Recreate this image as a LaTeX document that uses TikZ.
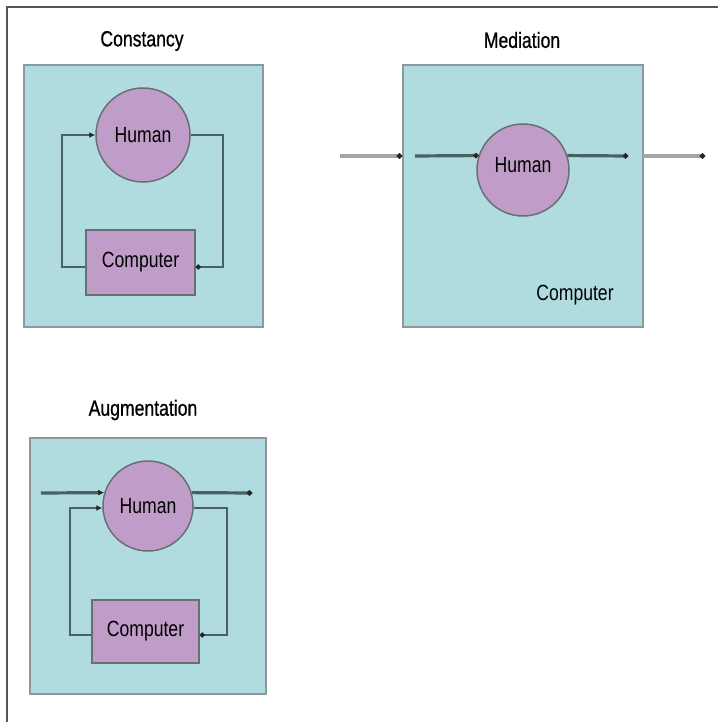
\documentclass[tikz,border=0pt]{standalone}
\usepackage{fontspec}
\setmainfont{Liberation Sans}[FakeStretch=0.8]
\newfontfamily\titlefont{Liberation Sans}[FakeStretch=0.8,FakeBold=0.8]
\usetikzlibrary{arrows.meta}
\definecolor{panelFill}{RGB}{176,220,224}
\definecolor{panelLine}{RGB}{140,152,156}
\definecolor{humanFill}{RGB}{192,157,200}
\definecolor{shapeLine}{RGB}{105,110,118}
\definecolor{linkColor}{RGB}{72,98,100}
\definecolor{outerColor}{RGB}{165,165,165}
\definecolor{frameColor}{RGB}{85,85,85}
\tikzset{
  panel/.style={draw=panelLine,fill=panelFill,line width=2.2pt,inner sep=0pt},
  human/.style={circle,draw=shapeLine,fill=humanFill,line width=1.5pt,minimum size=#1,inner sep=0pt},
  computer/.style={rectangle,draw=shapeLine,fill=humanFill,line width=1.5pt,inner sep=0pt},
  title/.style={inner sep=0pt,font=\fontsize{22}{26}\titlefont},
  flow/.style={draw=linkColor,line width=2pt,-{Latex[length=6pt,width=6pt,color=black!85]}},
  dotflow/.style={draw=linkColor,line width=2pt,-{Circle[length=5pt,fill=black!85,color=black!85]}},
  thick flow/.style={line width=3.2pt},
  outerflow/.style={draw=outerColor,line width=3.2pt,-{Circle[length=5pt,fill=black!85,color=black!85]}},
}
\begin{document}
\begin{tikzpicture}[x=1pt,y=-1pt,font=\fontsize{22}{26}\selectfont]
\path[use as bounding box] (0,0) rectangle (718,722);
% outer frame
\draw[frameColor,line width=2.5pt] (718,7) -- (7,7) -- (7,722);

% Constancy
\node[title] (ctitle) at (142,41) {Constancy};
\node[panel,minimum width=239pt,minimum height=262pt] (cbox) at (143.5,196) {};
\node[human=94pt] (chum) at (143,135) {Human};
\node[computer,minimum width=109pt,minimum height=65pt] (ccomp) at (140.5,262.5) {Computer};
\coordinate (cleft) at (62,135);
\coordinate (cright) at (223,135);
\draw[flow] ([yshift=-4.5pt]ccomp.west) -| (cleft) -- (chum.west);
\draw[dotflow] (chum.east) -- (cright) |- ([yshift=-4.5pt]ccomp.east);

% Mediation
\node[title] (mtitle) at (522,40) {Mediation};
\node[panel,minimum width=240pt,minimum height=262pt] (mbox) at (523,196) {};
\node[human=92pt] (mhum) at (523,170) {};
\node (mlabel) at (523,165) {Human};
\node (mcomp) at (575,295) {Computer};
\coordinate (min1) at (340,156);
\coordinate (min2) at (402,156);
\coordinate (min3) at (415,156);
\coordinate (mout1) at (628,156);
\coordinate (mout2) at (643,156);
\coordinate (mout3) at (705,156);
\draw[outerflow] (min1) -- (min2);
\draw[dotflow,thick flow] (min3) -- (mhum.162);
\draw[dotflow,thick flow] (mhum.18) -- (mout1);
\draw[outerflow] (mout2) -- (mout3);

% Augmentation
\node[title] (atitle) at (143,410) {Augmentation};
\node[panel,minimum width=236pt,minimum height=256pt] (abox) at (148,566) {};
\node[human=90pt] (ahum) at (148,506) {Human};
\node[computer,minimum width=107pt,minimum height=63pt] (acomp) at (145.5,631.5) {Computer};
\coordinate (ain) at (41,493);
\coordinate (aout) at (252,493);
\coordinate (aleft) at (70,508);
\coordinate (aright) at (227,508);
\draw[flow,thick flow] (ain) -- (ahum.163);
\draw[dotflow,thick flow] (ahum.17) -- (aout);
\draw[flow] ([yshift=-3.5pt]acomp.west) -| (aleft) -- ([yshift=-2pt]ahum.west);
\draw[dotflow] ([yshift=-2pt]ahum.east) -- (aright) |- ([yshift=-3.5pt]acomp.east);
\end{tikzpicture}
\end{document}
